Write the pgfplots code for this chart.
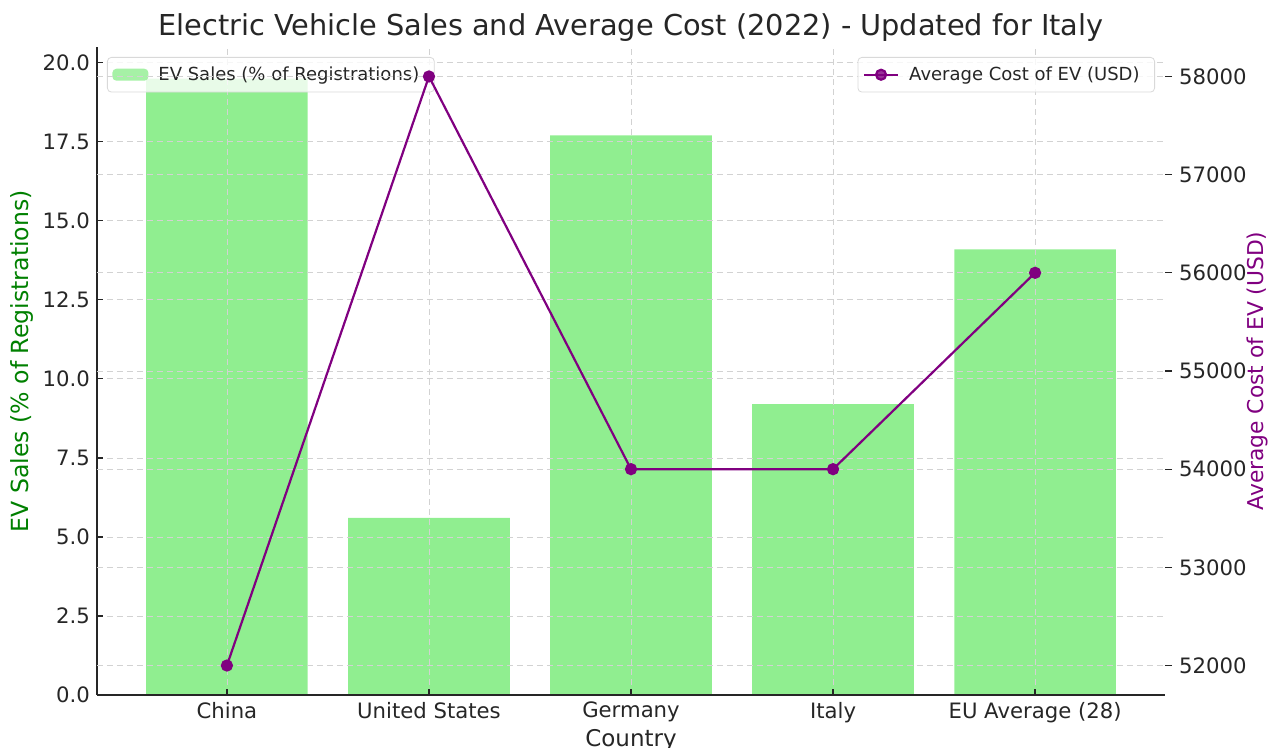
\documentclass[border=0pt]{standalone}
\usepackage{fontspec}
\setmainfont{DejaVu Sans}
\usepackage{pgfplots}
\pgfplotsset{compat=1.18}
\definecolor{lgreen}{HTML}{90EE90}
\definecolor{mpurple}{HTML}{800080}
\definecolor{mgreen}{HTML}{008000}
\definecolor{tickgray}{HTML}{262626}
\begin{document}
\begin{tikzpicture}
\pgfplotsset{
  common/.style={
    width=534pt, height=324pt, scale only axis,
    xmin=-0.643, xmax=4.643, enlargelimits=false,
    scaled ticks=false,
    /pgf/number format/assume math mode=true,
    tick label style={font=\fontsize{10.6}{12}\selectfont, text=tickgray},
    label style={font=\fontsize{11.5}{13}\selectfont},
    grid style={densely dashed, gray!35, line width=0.4pt},
    axis line style={line width=0.8pt, tickgray},
    major tick style={line width=0.6pt, tickgray},
    legend style={font=\fontsize{9}{11}\selectfont, text=tickgray, draw=gray!30, rounded corners=2pt, fill=white, fill opacity=0.8, text opacity=1, inner sep=2.5pt, row sep=0pt, nodes={inner xsep=5pt}},
  }
}
\begin{axis}[common,
  ymin=0, ymax=20.5,
  axis y line*=left, axis x line*=bottom,
  axis on top,
  xtick={0,1,2,3,4},
  xticklabels={China, United States, Germany, Italy, EU Average (28)},
  ytick={0,2.5,5,7.5,10,12.5,15,17.5,20},
  yticklabel style={/pgf/number format/fixed, /pgf/number format/fixed zerofill, /pgf/number format/precision=1},
  tick align=inside, major tick length=3pt,
  xmajorgrids, ymajorgrids,
  ylabel={EV Sales (\% of Registrations)},
  ylabel style={font=\fontsize{11.8}{13}\selectfont, text=mgreen, at={(axis description cs:-0.0702,0.515)}, anchor=center},
  xlabel={Country},
  xlabel style={text=tickgray, at={(axis description cs:0.5,-0.0694)}, anchor=center},
  title={Electric Vehicle Sales and Average Cost (2022) - Updated for Italy},
  title style={font=\fontsize{14.4}{17}\selectfont, text=tickgray, at={(axis description cs:0.5,1)}, anchor=base, yshift=-0.5pt},
  legend style={at={(0,1)}, anchor=north west, xshift=5pt, yshift=-5pt},
  legend cell align=left,
]
\addplot[ybar, bar width=0.8, fill=lgreen, draw=none, bar shift=0pt,
  legend image code/.code={\fill[lgreen] (0pt,-3pt) rectangle (18pt,3pt);}]
  coordinates {(0,19.5) (1,5.6) (2,17.7) (3,9.2) (4,14.1)};
\addlegendentry{EV Sales (\% of Registrations)}
\coordinate (ll) at (rel axis cs:0,0);
\coordinate (ur) at (rel axis cs:1,1);
\end{axis}
\begin{axis}[common,
  ymin=51700, ymax=58300,
  axis y line*=right, axis x line=none,
  y axis line style={opacity=0},
  ytick={52000,53000,54000,55000,56000,57000,58000},
  yticklabel style={/pgf/number format/fixed, /pgf/number format/set thousands separator={}},
  tick align=outside, major tick length=3.5pt,
  ymajorgrids,
  ylabel={Average Cost of EV (USD)},
  ylabel style={font=\fontsize{10.9}{13}\selectfont, text=mpurple, at={(axis description cs:1.0865,0.5)}, anchor=center, rotate=0},
  legend style={at={(1,1)}, anchor=north east, xshift=-5pt, yshift=-5pt},
  legend cell align=left,
]
\addplot[mpurple, line width=1.1pt, mark=*, mark size=2.5pt, mark options={fill=mpurple, draw=mpurple}]
  coordinates {(0,52000) (1,58000) (2,54000) (3,54000) (4,56000)};
\addlegendentry{Average Cost of EV (USD)}
\end{axis}
\pgfresetboundingbox
\path[use as bounding box] ([xshift=-48.5pt,yshift=-26.5pt]ll) rectangle ([xshift=51.5pt,yshift=23.5pt]ur);
\end{tikzpicture}
\end{document}
